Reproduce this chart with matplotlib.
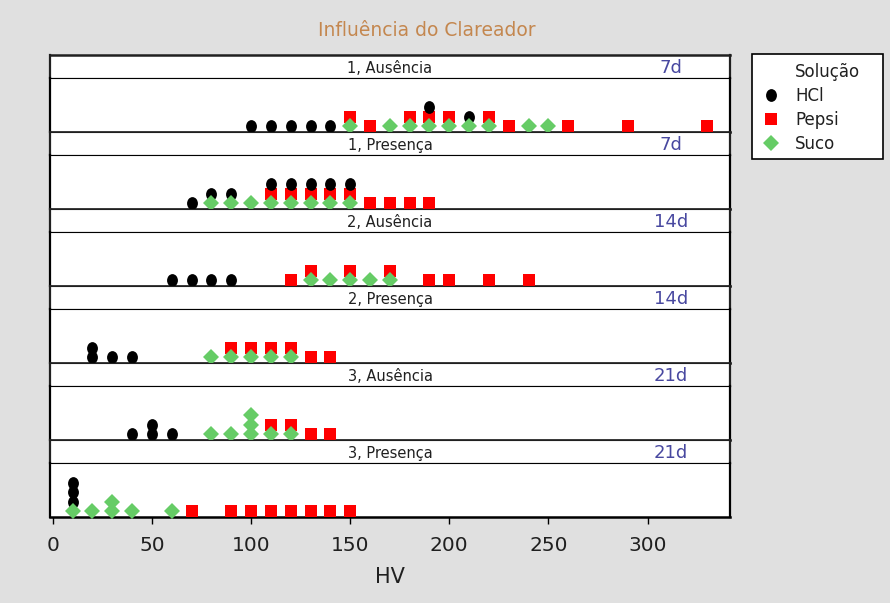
import matplotlib
matplotlib.use("Agg")
import matplotlib.pyplot as plt
import numpy as np
from matplotlib.path import Path
from matplotlib.lines import Line2D
from matplotlib.patches import Rectangle

plt.rcParams['font.family'] = ['DejaVu Sans']

# ---------------- data ----------------
panel_labels = ["1, Ausência", "1, Presença", "2, Ausência",
                "2, Presença", "3, Ausência", "3, Presença"]
time_labels = ["7d", "7d", "14d", "14d", "21d", "21d"]

hcl = [
    [100, 110, 120, 130, 140, 190, 210],
    [70, 80, 90, 110, 120, 130, 140, 150],
    [60, 70, 80, 90],
    [20, 20, 30, 40],
    [40, 50, 50, 60],
    [10, 10, 10],
]
pepsi = [
    [150, 160, 180, 190, 200, 220, 230, 260, 290, 330],
    [110, 120, 130, 140, 150, 160, 170, 180, 190],
    [120, 130, 150, 170, 190, 200, 220, 240],
    [90, 100, 110, 120, 130, 140],
    [110, 120, 130, 140],
    [70, 90, 100, 110, 120, 130, 140, 150],
]
suco = [
    [150, 170, 180, 190, 200, 210, 220, 240, 250],
    [80, 90, 100, 110, 120, 130, 140, 150],
    [130, 140, 150, 160, 170],
    [80, 90, 100, 110, 120],
    [80, 90, 100, 100, 100, 110, 120],
    [10, 20, 30, 30, 40, 60],
]
x_ticks = [0, 50, 100, 150, 200, 250, 300]
series_names = ["HCl", "Pepsi", "Suco"]

# ---------------- style ----------------
W, H = 890, 603
DPI = 100
bg = "#e0e0e0"
title_color = "#c4874f"
time_color = "#4848a0"
colors = {"HCl": "black", "Pepsi": "#ff0000", "Suco": "#66cc66"}

circ = Path.unit_circle()
ellipse = Path(circ.vertices * np.array([0.85, 1.0]), circ.codes)
markers = {"HCl": (ellipse, 9.2), "Pepsi": ("s", 8.0), "Suco": ("D", 8.4)}

fig = plt.figure(figsize=(W / DPI, H / DPI), dpi=DPI, facecolor=bg)

left_px, right_px = 50, 730
top_px = 55
pitch = 77
strip_h = 23
plot_h = pitch - strip_h
xlim = (-1.4, 341.6)
base = 5.8
step = 9.5


def fr(x, y, w, h):
    return [x / W, 1 - (y + h) / H, w / W, h / H]


for i in range(6):
    ytop = top_px + i * pitch
    # strip
    sax = fig.add_axes(fr(left_px, ytop, right_px - left_px, strip_h))
    sax.set_facecolor("white")
    sax.set_xticks([]); sax.set_yticks([])
    for s in sax.spines.values():
        s.set_linewidth(0.8); s.set_color("#202020")
    sax.spines["left"].set_linewidth(1.6)
    sax.spines["right"].set_linewidth(1.6)
    if i == 0:
        sax.spines["top"].set_linewidth(1.8)
    sax.text(0.5, 0.42, panel_labels[i], transform=sax.transAxes,
             ha="center", va="center", fontsize=10.5, color="#202020")
    sax.text(0.913, 0.42, time_labels[i], transform=sax.transAxes,
             ha="center", va="center", fontsize=13, color=time_color)

    # plot
    ax = fig.add_axes(fr(left_px, ytop + strip_h, right_px - left_px, plot_h))
    ax.set_facecolor("white")
    ax.set_xlim(*xlim)
    ax.set_ylim(0, plot_h)
    ax.set_yticks([])
    for s in ax.spines.values():
        s.set_color("black")
    ax.spines["top"].set_linewidth(0.8)
    ax.spines["left"].set_linewidth(1.6)
    ax.spines["right"].set_linewidth(1.6)
    ax.spines["bottom"].set_linewidth(1.8)

    # stacking: Suco bottom, then Pepsi, then HCl
    counts = {}
    for name, vals in (("Suco", suco[i]), ("Pepsi", pepsi[i]), ("HCl", hcl[i])):
        xs, ys = [], []
        for v in vals:
            k = counts.get(v, 0)
            counts[v] = k + 1
            xs.append(v)
            ys.append(base + k * step)
        m, ms = markers[name]
        ax.plot(xs, ys, linestyle="none", marker=m, markersize=ms,
                color=colors[name], markeredgewidth=0, clip_on=False,
                zorder=4 if name == "Suco" else 3)

    if i < 5:
        ax.set_xticks([])
    else:
        ax.set_xticks(x_ticks)
        ax.set_xticklabels([str(t) for t in x_ticks])
        ax.tick_params(axis="x", direction="out", length=5, width=1,
                       pad=9, labelsize=14.5, colors="black",
                       labelcolor="#202020")
        ax.set_xlabel("HV", fontsize=15, color="#202020", labelpad=8)

fig.text(427 / W, 1 - 31 / H, "Influência do Clareador", ha="center",
         va="center", fontsize=13.5, color=title_color)

# legend box
box = Rectangle((752 / W, 1 - 159 / H), 131 / W, 105 / H,
                transform=fig.transFigure, facecolor="white",
                edgecolor="black", linewidth=1.2, zorder=1)
fig.patches.append(box)

blank = Line2D([], [], linestyle="none", marker=None)
leg_handles = [blank] + [
    Line2D([], [], linestyle="none", marker=markers[n][0],
           markersize=markers[n][1], color=colors[n], markeredgewidth=0)
    for n in series_names]
leg_labels = ["Solução"] + series_names
leg = fig.legend(leg_handles, leg_labels, loc="upper left",
                 bbox_to_anchor=(761 / W, 1 - 63 / H), fontsize=12,
                 frameon=False, handlelength=1.2,
                 handletextpad=0.84, labelspacing=0.36, borderpad=0,
                 borderaxespad=0)
leg.set_zorder(5)
for t in leg.get_texts():
    t.set_color("#202020")

fig.savefig("out.png", dpi=DPI, facecolor=bg)
